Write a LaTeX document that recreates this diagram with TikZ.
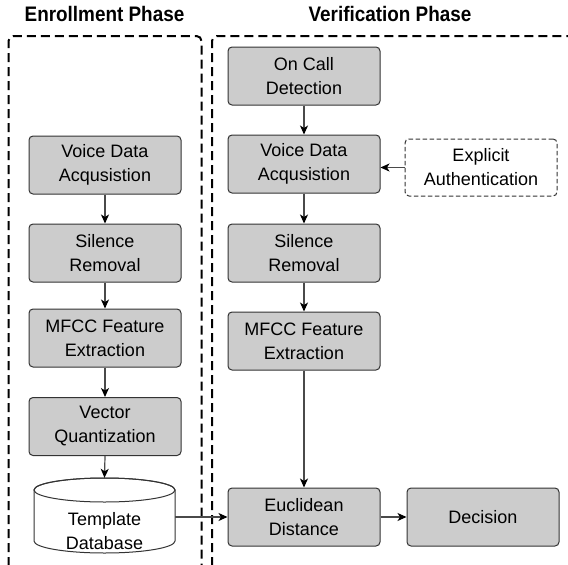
\documentclass[tikz,border=0pt]{standalone}
\usepackage{fontspec}
\usepackage{graphicx}
\setmainfont{Liberation Sans}
\usetikzlibrary{arrows.meta}
\definecolor{boxfill}{HTML}{CCCCCC}
\definecolor{boxline}{HTML}{333333}
\definecolor{arrline}{HTML}{4A4A4A}
\tikzset{
  stepbox/.style={draw=boxline, line width=1pt, fill=boxfill, rounded corners=4pt,
    minimum width=152pt, minimum height=58pt, align=center, inner sep=0pt,
    font=\fontsize{18}{24}\selectfont},
  extbox/.style={draw=boxline, dash pattern=on 4.5pt off 2.5pt, line width=1pt, fill=white,
    rounded corners=4pt, minimum width=152pt, minimum height=57pt, align=center, inner sep=0pt,
    font=\fontsize{18}{24}\selectfont},
  phase/.style={draw=black, line width=2pt, dash pattern=on 9pt off 5pt, rounded corners=5pt},
  arr/.style={draw=arrline, line width=1.2pt, -{Stealth[length=9pt,width=8pt,inset=2.5pt,color=black]}},
  title/.style={font=\fontsize{21}{25}\selectfont\bfseries, inner sep=0pt}
}
\begin{document}
\begin{tikzpicture}[x=1pt,y=-1pt]
\useasboundingbox (0,0) rectangle (568,565);
\clip (0,0) rectangle (568,565);
% phase frames
\draw[phase] (8.5,580) -- (8.5,36) -- (201.5,36) -- (201.5,580);
\draw[phase] (212,580) -- (212,36) -- (590,36);
% titles
\node[title] (t1) at (104.5,14) {\scalebox{0.9}[1]{Enrollment Phase}};
\node[title] (t2) at (390,14) {\scalebox{0.9}[1]{Verification Phase}};
% enrollment column
\node[stepbox] (ev) at (105,165) {Voice Data\\Acqusistion};
\node[stepbox] (es) at (105,253) {Silence\\Removal};
\node[stepbox] (em) at (105,338) {MFCC Feature\\Extraction};
\node[stepbox] (eq) at (105,426.5) {Vector\\Quantization};
% database cylinder
\path[draw=boxline, line width=1pt, fill=white]
  (34,490) -- (34,541) arc[start angle=180, end angle=360, x radius=70.5pt, y radius=12pt]
  -- (175,490) arc[start angle=0, end angle=180, x radius=70.5pt, y radius=12pt] -- cycle;
\draw[boxline, line width=1pt] (104.5,490) ellipse[x radius=70.5pt, y radius=12pt];
\node[minimum width=141pt, minimum height=75pt, inner sep=0pt] (db) at (104.5,515.5) {};
\node[align=center, inner sep=0pt, font=\fontsize{18}{24}\selectfont] (dbt) at (104.5,531) {Template\\Database};
% verification column
\node[stepbox] (oc) at (304,76) {On Call\\Detection};
\node[stepbox] (vv) at (304,164) {Voice Data\\Acqusistion};
\node[stepbox] (vs) at (304,253) {Silence\\Removal};
\node[stepbox] (vm) at (304,341) {MFCC Feature\\Extraction};
\node[stepbox] (eu) at (304,517) {Euclidean\\Distance};
\node[stepbox] (de) at (483,517) {Decision};
\node[extbox] (ex) at (481,167.5) {Explicit\\Authentication};
% arrows
\draw[arr] (ev) -- (es);
\draw[arr] (es) -- (em);
\draw[arr] (em) -- (eq);
\draw[arr] (eq.south) -- (db.north);
\draw[arr] (oc) -- (vv);
\draw[arr] (vv) -- (vs);
\draw[arr] (vs) -- (vm);
\draw[arr] (vm) -- (eu);
\draw[arr] (eu) -- (de);
\draw[arr] (ex.west) -- (ex.west -| vv.east);
\draw[arr] (db.east |- eu.west) -- (eu.west);
\end{tikzpicture}
\end{document}
